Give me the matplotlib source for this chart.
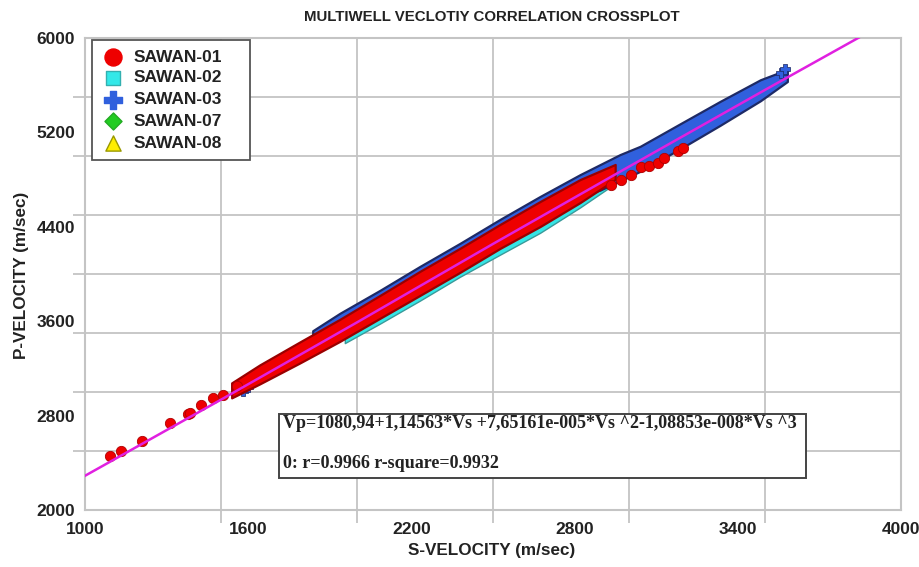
import matplotlib
matplotlib.use("Agg")
import matplotlib.pyplot as plt
from matplotlib.patches import Rectangle
from matplotlib.ticker import MultipleLocator, FixedLocator

# ---------------- data ----------------
series_names = ["SAWAN-01", "SAWAN-02", "SAWAN-03", "SAWAN-07", "SAWAN-08"]

# SAWAN-01 (red): dense band edges
red_top_vs = [1541, 1644, 1791, 1939, 2086, 2233, 2380, 2528, 2675, 2822, 2951]
red_top_vp = [3073, 3225, 3419, 3612, 3814, 4018, 4213, 4416, 4610, 4796, 4924]
red_bot_vs = [1541, 1644, 1791, 1939, 2086, 2233, 2380, 2528, 2675, 2822, 2951]
red_bot_vp = [2946, 3064, 3241, 3425, 3620, 3814, 4009, 4213, 4398, 4601, 4797]
# SAWAN-01 (red): isolated samples
red_pts_vs = [1092, 1131, 1209, 1313, 1377, 1387, 1426, 1472, 1509, 1558,
              2932, 2969, 3006, 3043, 3072, 3106, 3128, 3179, 3198]
red_pts_vp = [2458, 2503, 2585, 2735, 2811, 2825, 2890, 2947, 2975, 3051,
              4754, 4797, 4839, 4907, 4915, 4941, 4983, 5042, 5068]

# SAWAN-02 (cyan) band edges
cyan_top_vs = [1957, 2086, 2233, 2380, 2528, 2675, 2822, 2940]
cyan_top_vp = [3551, 3720, 3915, 4110, 4305, 4500, 4695, 4847]
cyan_bot_vs = [1957, 2086, 2233, 2380, 2528, 2675, 2822, 2940]
cyan_bot_vp = [3410, 3575, 3770, 3972, 4160, 4345, 4560, 4745]

# SAWAN-03 (blue) band edges
blue_top_vs = [1839, 1939, 2086, 2233, 2380, 2528, 2675, 2822, 2969, 3043, 3190, 3337, 3485, 3584]
blue_top_vp = [3515, 3663, 3857, 4060, 4255, 4459, 4653, 4838, 5008, 5078, 5269, 5459, 5642, 5729]
blue_bot_vs = [1839, 1939, 2086, 2233, 2380, 2528, 2675, 2822, 2896, 3043, 3190, 3337, 3485, 3584]
blue_bot_vp = [3432, 3492, 3686, 3881, 4076, 4271, 4466, 4661, 4707, 4866, 5057, 5256, 5464, 5627]
blue_pts_vs = [1580, 1600, 3560, 3575]
blue_pts_vp = [3010, 3040, 5700, 5735]

# SAWAN-07 (green) and SAWAN-08 (yellow): hidden beneath the band
green_vs = [2300, 2500]
green_vp = [4090, 4340]
yellow_vs = [2400]
yellow_vp = [4210]

# regression curve
fit_vs = [1000, 1500, 2000, 2500, 3000, 3500, 3850]
fit_vp = [2290, 2935, 3590, 4255, 4910, 5560, 6010]

eq_text = "Vp=1080,94+1,14563*Vs +7,65161e-005*Vs ^2-1,08853e-008*Vs ^3"
r_text = "0: r=0.9966 r-square=0.9932"

x_labels = [1000, 1600, 2200, 2800, 3400, 4000]
y_labels = [2000, 2800, 3600, 4400, 5200, 6000]

# ---------------- figure ----------------
W, H = 919, 567
fig = plt.figure(figsize=(W/100, H/100), dpi=100)
AX_L, AX_R, AX_T, AX_B = 85, 901, 38, 510
ax = fig.add_axes([AX_L/W, 1-AX_B/H, (AX_R-AX_L)/W, (AX_B-AX_T)/H])
ax.set_xlim(1000, 4000)
ax.set_ylim(2000, 6000)

def axfrac(px, py):
    return (px-AX_L)/(AX_R-AX_L), (AX_B-py)/(AX_B-AX_T)

grid_c = "#c4c4c4"
ax.xaxis.set_minor_locator(MultipleLocator(500))
ax.yaxis.set_minor_locator(MultipleLocator(500))
ax.xaxis.set_major_locator(FixedLocator(x_labels))
ax.yaxis.set_major_locator(FixedLocator(y_labels))
ax.grid(which="minor", color=grid_c, lw=1.3)
ax.grid(which="major", visible=False)
ax.tick_params(which="major", length=0)
ax.tick_params(axis="x", which="major", pad=9)
ax.tick_params(axis="y", which="major", pad=7)
ax.tick_params(which="minor", length=9, color=grid_c, width=1.3)
for s in ax.spines.values():
    s.set_color(grid_c)
    s.set_linewidth(1.5)
ax.set_axisbelow(True)

tick_font = dict(family="Liberation Sans", weight="bold", size=12.5, color="#222222")
ax.set_xticklabels([str(v) for v in x_labels], **tick_font)
ax.set_yticklabels([str(v) for v in y_labels], **tick_font)

def band(tv, tp, bv, bp, face, edge, z, lw=1.6):
    xs = list(tv) + list(bv)[::-1]
    ys = list(tp) + list(bp)[::-1]
    ax.fill(xs, ys, facecolor=face, edgecolor=edge, lw=lw, zorder=z, joinstyle="round")

ax.scatter(green_vs, green_vp, marker="D", s=40, c="#22cc22", edgecolors="#117711", zorder=2)
ax.scatter(yellow_vs, yellow_vp, marker="^", s=50, c="#ffee00", edgecolors="#888800", zorder=2)

band(cyan_top_vs, cyan_top_vp, cyan_bot_vs, cyan_bot_vp, "#35e5e5", "#3a9a9a", 3, lw=1.0)
band(blue_top_vs, blue_top_vp, blue_bot_vs, blue_bot_vp, "#3060dd", "#1e2a66", 4)
ax.scatter(blue_pts_vs, blue_pts_vp, marker="P", s=55, c="#3060dd", edgecolors="#1a2560", lw=0.5, zorder=4)
band(red_top_vs, red_top_vp, red_bot_vs, red_bot_vp, "#ee0000", "#9a0000", 5)
ax.scatter(red_pts_vs, red_pts_vp, marker="o", s=55, c="#ee0000", edgecolors="#b00000", lw=0.6, zorder=6)

ax.plot(fit_vs, fit_vp, color="#e020e0", lw=1.8, zorder=7)

# legend (drawn by hand to match the original box geometry)
lx0, ly0 = axfrac(92, 160)
lx1, ly1 = axfrac(250, 40)
ax.add_patch(Rectangle((lx0, ly0), lx1-lx0, ly1-ly0, transform=ax.transAxes,
                       facecolor="white", edgecolor="#555555", lw=1.3, zorder=10))
leg_style = [
    dict(marker="o", s=150, c="#ee0000", edgecolors="#ee0000"),
    dict(marker="s", s=110, c="#33e8e8", edgecolors="#33b0b0"),
    dict(marker="P", s=170, c="#3060dd", edgecolors="#3060dd"),
    dict(marker="D", s=75, c="#22cc22", edgecolors="#22aa22"),
    dict(marker="^", s=120, c="#ffee00", edgecolors="#999900"),
]
row_y = [57, 78, 100, 121, 143]
for name, st, ry in zip(series_names, leg_style, row_y):
    mx, my = axfrac(113, ry)
    ax.scatter([mx], [my], transform=ax.transAxes, zorder=11, clip_on=False, **st)
    tx, ty = axfrac(134, ry)
    ax.text(tx, ty, name, transform=ax.transAxes, ha="left", va="center", zorder=11,
            family="Liberation Sans", weight="bold", size=12.5, color="#222222")

# equation box
bx0, by0 = axfrac(279, 478)
bx1, by1 = axfrac(806, 414)
ax.add_patch(Rectangle((bx0, by0), bx1-bx0, by1-by0, transform=ax.transAxes,
                       facecolor="white", edgecolor="#444444", lw=1.4, zorder=10))
for txt, py in ((eq_text, 424), (r_text, 464)):
    tx, ty = axfrac(283, py)
    ax.text(tx, ty, txt, transform=ax.transAxes, ha="left", va="center", zorder=11,
            family="Liberation Serif", weight="bold", size=13, color="#222222")

fig.text(492/W, 1-17/H, "MULTIWELL VECLOTIY CORRELATION CROSSPLOT", ha="center", va="center",
         family="Liberation Sans", weight="bold", size=10.8, color="#222222")
fig.text(492/W, 1-550/H, "S-VELOCITY (m/sec)", ha="center", va="center",
         family="Liberation Sans", weight="bold", size=12.3, color="#222222")
fig.text(22/W, 1-275/H, "P-VELOCITY (m/sec)", ha="center", va="center", rotation=90,
         family="Liberation Sans", weight="bold", size=12.3, color="#222222")

fig.savefig("out.png", dpi=100)
